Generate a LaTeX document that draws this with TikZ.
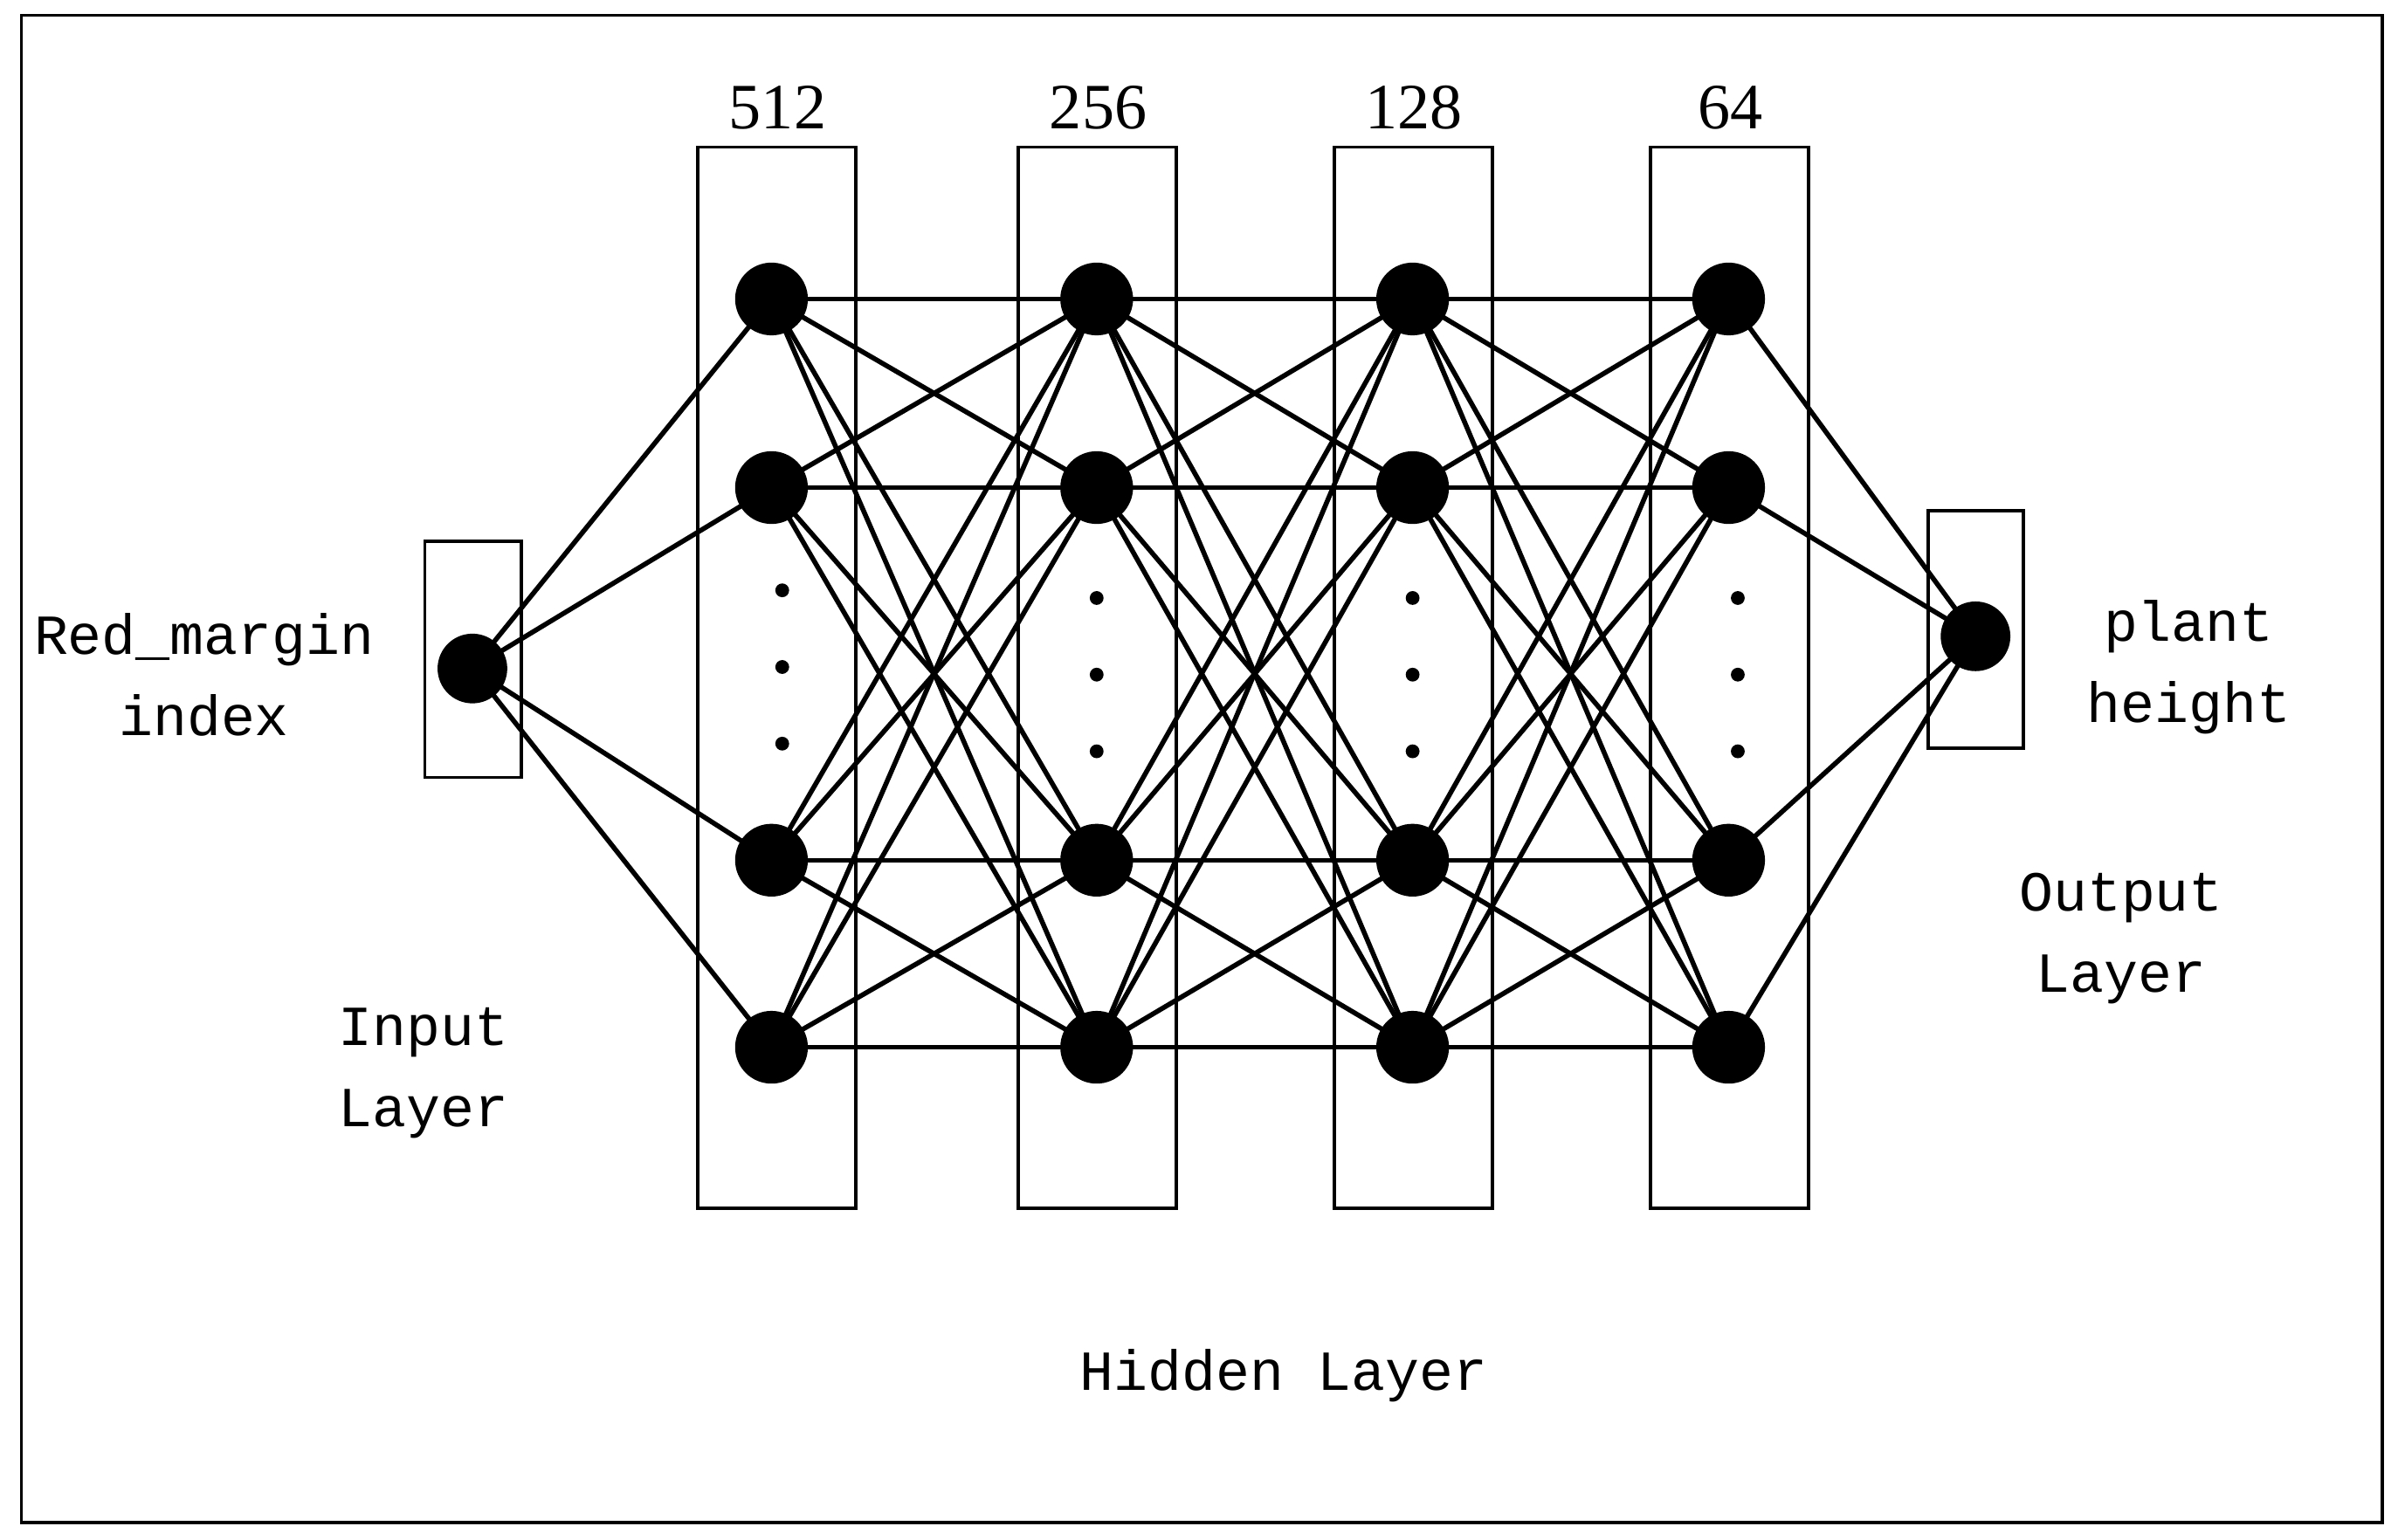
\documentclass[tikz,border=0pt]{standalone}
\usepackage{fontspec}
\setmainfont{Liberation Serif}
\newfontfamily\monof{Liberation Mono}
\begin{document}
\begin{tikzpicture}[x=0.01cm,y=-0.01cm,
  neuron/.style={circle,fill=black,draw=black,minimum size=0.46cm,inner sep=0pt},
  box/.style={draw=black,line width=0.6pt},
  conn/.style={line width=0.9pt},
  lbl/.style={font=\monof\fontsize{10.5pt}{15pt}\selectfont,align=center},
  num/.style={font=\fontsize{12pt}{14pt}\selectfont},
  dot/.style={circle,fill=black,inner sep=0pt,minimum size=0.09cm}]
\useasboundingbox (0,0) rectangle (1568,1004);
\draw[box] (14,10) rectangle (1553,993);
\draw[box] (277,353) rectangle (340,507);
\draw[box] (1257,333) rectangle (1319,488);
\foreach \x/\n [count=\c] in {455/512,664/256,870/128,1076/64}{
  \draw[box] (\x,96) rectangle (\x+103,788);
  \node[num] (t\c) at (\x+52,70) {\n};
}
\node[neuron,minimum size=0.44cm] (in) at (308,436) {};
\node[neuron,minimum size=0.44cm] (out) at (1288,415) {};
\foreach \x [count=\c] in {503,715,921,1127}{
  \foreach \y [count=\r] in {195,318,561,683}{
    \node[neuron] (n\c\r) at (\x,\y) {};
  }
}
\foreach \c/\off in {1/-5,2/0,3/0,4/0}{
  \pgfmathsetmacro{\xx}{{503,715,921,1133}[\c-1]+(\c==1?7:0)}
  \foreach \y [count=\k] in {390,440,490}{
    \node[dot] (d\c\k) at (\xx,\y+\off) {};
  }
}
\foreach \r in {1,...,4}{
  \draw[conn] (in.center) -- (n1\r.center);
  \draw[conn] (n4\r.center) -- (out.center);
}
\foreach \a/\b in {1/2,2/3,3/4}{
  \foreach \r in {1,...,4}{
    \foreach \s in {1,...,4}{
      \draw[conn] (n\a\r.center) -- (n\b\s.center);
    }
  }
}
\node[lbl] (l1) at (133,440) {Red\_margin\\index};
\node[lbl] (l2) at (276,700) {Input\\Layer};
\node[lbl] (l3) at (1427,435) {plant\\height};
\node[lbl] (l4) at (1383,612) {Output\\Layer};
\node[lbl] (l5) at (837,897) {Hidden Layer};
\end{tikzpicture}
\end{document}
